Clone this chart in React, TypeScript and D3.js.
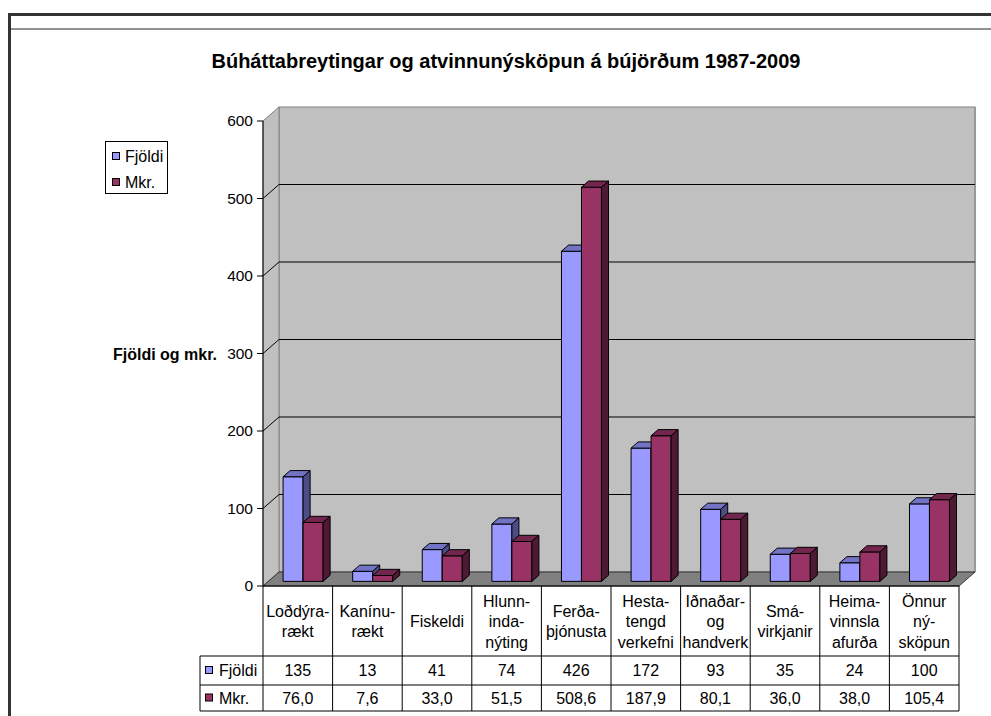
import React from 'react';
import * as d3 from 'd3';

// Chart data
const categories: string[][] = [
  ['Loðdýra-', 'rækt'],
  ['Kanínu-', 'rækt'],
  ['Fiskeldi'],
  ['Hlunn-', 'inda-', 'nýting'],
  ['Ferða-', 'þjónusta'],
  ['Hesta-', 'tengd', 'verkefni'],
  ['Iðnaðar-', 'og', 'handverk'],
  ['Smá-', 'virkjanir'],
  ['Heima-', 'vinnsla', 'afurða'],
  ['Önnur', 'ný-', 'sköpun'],
];
const fjoldi = [135, 13, 41, 74, 426, 172, 93, 35, 24, 100];
const mkr = [76.0, 7.6, 33.0, 51.5, 508.6, 187.9, 80.1, 36.0, 38.0, 105.4];
const yTicks = [0, 100, 200, 300, 400, 500, 600];

const series = [
  { name: 'Fjöldi', values: fjoldi, front: '#9999FF', top: '#7373C6', side: '#4D4D85', fmt: (v: number) => String(v) },
  { name: 'Mkr.', values: mkr, front: '#993366', top: '#73264D', side: '#4D1933', fmt: (v: number) => v.toFixed(1).replace('.', ',') },
];

const FONT = 'Arial, "Liberation Sans", sans-serif';

const App = () => {
  const W = 991;
  const H = 716;

  // plot geometry (front plane)
  const left = 263;
  const right = 959;
  const y0 = 586;
  const yTop = 121;
  const depthX = 16;
  const depthY = 14;

  const y = d3.scaleLinear().domain([0, 600]).range([y0, yTop]);
  const x = d3.scaleBand<number>()
    .domain(d3.range(categories.length))
    .range([left, right]);
  const cw = x.bandwidth();
  const barW = 20;

  // bar depth placement
  const f1 = 0.33;
  const f2 = 0.77;
  const dx1 = depthX * f1, dy1 = depthY * f1;
  const dx2 = depthX * f2, dy2 = depthY * f2;

  const tableRows = [656, 685, 711];
  const labelMid = 621.5;

  const bars: JSX.Element[] = [];
  categories.forEach((_, i) => {
    series.forEach((s, si) => {
      const v = s.values[i];
      const x0 = (x(i) as number) + (cw - barW * 2) / 2 + si * barW + dx1;
      const x1 = x0 + barW;
      const yb = y(0) - dy1;
      const yt = y(v) - dy1;
      const ex = dx2 - dx1;
      const ey = dy2 - dy1;
      bars.push(
        <g key={`${i}-${si}`} stroke="#000" strokeWidth={1} strokeLinejoin="round">
          <rect x={x0} y={yt} width={barW} height={yb - yt} fill={s.front} />
          <polygon points={`${x0},${yt} ${x0 + ex},${yt - ey} ${x1 + ex},${yt - ey} ${x1},${yt}`} fill={s.top} />
          <polygon points={`${x1},${yt} ${x1 + ex},${yt - ey} ${x1 + ex},${yb - ey} ${x1},${yb}`} fill={s.side} />
        </g>
      );
    });
  });

  return (
    <div style={{ position: 'fixed', left: 0, top: 0, width: W, height: H, background: '#fff' }}>
      <svg width={W} height={H} style={{ display: 'block' }} fontFamily={FONT}>
        {/* outer frame */}
        <rect x={9.5} y={14.5} width={W + 20} height={H + 20} fill="#fff" stroke="#333" strokeWidth={3} />
        <line x1={10} x2={W} y1={29} y2={29} stroke="#222" strokeWidth={1} />

        {/* title */}
        <text x={506} y={68} textAnchor="middle" fontSize={20} fontWeight="bold" fill="#000">
          Búháttabreytingar og atvinnunýsköpun á bújörðum 1987-2009
        </text>

        {/* walls */}
        <rect x={left + depthX} y={yTop - depthY} width={right - left} height={y0 - yTop} fill="#C0C0C0" stroke="#808080" strokeWidth={1} />
        <polygon
          points={`${left},${y0} ${left},${yTop} ${left + depthX},${yTop - depthY} ${left + depthX},${y0 - depthY}`}
          fill="#C0C0C0" stroke="#808080" strokeWidth={1}
        />
        <line x1={right + depthX} x2={right + depthX} y1={yTop - depthY} y2={y0 - depthY} stroke="#999" strokeWidth={2} />

        {/* gridlines */}
        {yTicks.filter(t => t > 0 && t < 600).map(t => (
          <g key={t} stroke="#000" strokeWidth={1}>
            <line x1={left + depthX} x2={right + depthX} y1={y(t) - depthY} y2={y(t) - depthY} />
            <line x1={left} x2={left + depthX} y1={y(t)} y2={y(t) - depthY} />
          </g>
        ))}

        {/* floor */}
        <polygon
          points={`${left},${y0} ${right},${y0} ${right + depthX},${y0 - depthY} ${left + depthX},${y0 - depthY}`}
          fill="#808080" stroke="#333" strokeWidth={1}
        />

        {bars}

        {/* y axis */}
        <line x1={left} x2={left} y1={yTop} y2={y0} stroke="#000" strokeWidth={1} />
        {yTicks.map(t => (
          <g key={t}>
            <line x1={left - 6} x2={left} y1={y(t)} y2={y(t)} stroke="#000" strokeWidth={1} />
            <text x={253} y={y(t)} dy="0.35em" textAnchor="end" fontSize={15.5} fill="#000">{t}</text>
          </g>
        ))}
        <text x={217} y={y(300) + 1} dy="0.35em" textAnchor="end" fontSize={16} fontWeight="bold" fill="#000">
          Fjöldi og mkr.
        </text>

        {/* legend */}
        <rect x={105.5} y={141.5} width={62} height={52} fill="#fff" stroke="#000" strokeWidth={1} />
        {series.map((s, si) => (
          <g key={s.name}>
            <rect x={112.5} y={152.5 + si * 26} width={7} height={7} fill={s.front} stroke="#000" strokeWidth={1} />
            <text x={125} y={156 + si * 26} dy="0.35em" fontSize={16} fill="#000">{s.name}</text>
          </g>
        ))}

        {/* data table */}
        <g stroke="#000" strokeWidth={1}>
          <line x1={left} x2={right} y1={y0} y2={y0} />
          {d3.range(categories.length + 1).map(i => (
            <line key={i} x1={left + i * cw} x2={left + i * cw} y1={y0} y2={tableRows[2]} />
          ))}
          {tableRows.map(r => (
            <line key={r} x1={200} x2={right} y1={r} y2={r} />
          ))}
          <line x1={200} x2={200} y1={tableRows[0]} y2={tableRows[2]} />
        </g>
        {categories.map((lines, i) => (
          <text key={i} textAnchor="middle" fontSize={16} fill="#000">
            {lines.map((ln, li) => (
              <tspan key={li} x={(x(i) as number) + cw / 2}
                y={labelMid + (li - (lines.length - 1) / 2) * 20.5} dy="0.35em">{ln}</tspan>
            ))}
          </text>
        ))}
        {series.map((s, si) => {
          const cy = (tableRows[si] + tableRows[si + 1]) / 2;
          return (
            <g key={s.name}>
              <rect x={205.5} y={cy - 4} width={7} height={7} fill={s.front} stroke="#000" strokeWidth={1} />
              <text x={219} y={cy} dy="0.35em" fontSize={16} fill="#000">{s.name}</text>
              {s.values.map((v, i) => (
                <text key={i} x={(x(i) as number) + cw / 2} y={cy} dy="0.35em" textAnchor="middle" fontSize={16} fill="#000">
                  {s.fmt(v)}
                </text>
              ))}
            </g>
          );
        })}
      </svg>
    </div>
  );
};

export default App;
